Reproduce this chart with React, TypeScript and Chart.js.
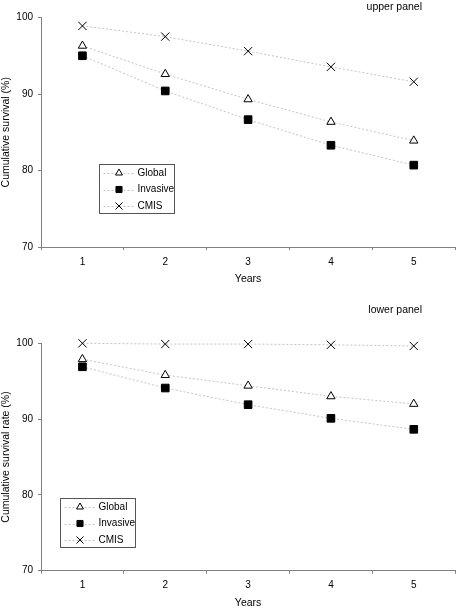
import React, { useEffect, useRef } from 'react';
import { Chart, registerables } from 'chart.js';
import { drawPoint } from 'chart.js/helpers';

Chart.register(...registerables);

const years = ['1', '2', '3', '4', '5'];
const seriesNames = ['Global', 'Invasive', 'CMIS'];

const upperGlobal = [96.3, 92.6, 89.3, 86.35, 83.9];
const upperInvasive = [95.0, 90.4, 86.65, 83.3, 80.7];
const upperCMIS = [98.9, 97.5, 95.6, 93.55, 91.6];

const lowerGlobal = [97.9, 95.8, 94.4, 93.0, 92.0];
const lowerInvasive = [96.9, 94.1, 91.9, 90.1, 88.65];
const lowerCMIS = [100, 99.9, 99.9, 99.8, 99.65];

const yTicks = [70, 80, 90, 100];

const FONT = '"Liberation Sans", Arial, Helvetica, sans-serif';
const AXIS = '#808080';
const LINE = '#c4c4c4';

const styles = [
  { pointStyle: 'triangle', bg: '#ffffff', radius: 4.8, legendRadius: 4 },
  { pointStyle: 'rect', bg: '#000000', radius: 5.4, legendRadius: 4.3 },
  { pointStyle: 'crossRot', bg: '#000000', radius: 5.8, legendRadius: 5 },
];

const insideLegend = {
  id: 'insideLegend',
  afterDraw(chart: any, _args: any, opts: any) {
    if (!opts || !opts.show) return;
    const { ctx, chartArea } = chart;
    const x0 = Math.round(chartArea.left + opts.dx) + 0.5;
    const y0 = Math.round(chartArea.top + opts.dy) + 0.5;
    const w = opts.width;
    const h = opts.height;
    ctx.save();
    ctx.fillStyle = '#ffffff';
    ctx.fillRect(x0, y0, w, h);
    ctx.strokeStyle = '#555555';
    ctx.lineWidth = 1;
    ctx.strokeRect(x0, y0, w, h);
    chart.data.datasets.forEach((ds: any, i: number) => {
      const cy = y0 + 8.5 + i * 16.5;
      ctx.save();
      ctx.strokeStyle = LINE;
      ctx.lineWidth = 1;
      ctx.setLineDash([2, 2]);
      ctx.beginPath();
      ctx.moveTo(x0 + 4, Math.round(cy) + 0.5);
      ctx.lineTo(x0 + 36, Math.round(cy) + 0.5);
      ctx.stroke();
      ctx.restore();
      ctx.fillStyle = ds.pointBackgroundColor;
      ctx.strokeStyle = '#000000';
      ctx.lineWidth = 1;
      drawPoint(ctx, { pointStyle: ds.pointStyle, radius: ds.legendRadius, borderWidth: 1, rotation: 0 } as any, x0 + 19.5, cy);
      ctx.fillStyle = '#000000';
      ctx.font = `10px ${FONT}`;
      ctx.textAlign = 'left';
      ctx.textBaseline = 'middle';
      ctx.fillText(ds.label, x0 + 38, cy);
    });
    ctx.restore();
  },
};

const panelLabel = {
  id: 'panelLabel',
  afterDraw(chart: any, _args: any, opts: any) {
    if (!opts || !opts.text) return;
    const { ctx } = chart;
    ctx.save();
    ctx.fillStyle = '#000000';
    ctx.font = `10.5px ${FONT}`;
    ctx.textAlign = 'right';
    ctx.textBaseline = 'middle';
    ctx.fillText(opts.text, opts.x, opts.y);
    ctx.restore();
  },
};

type PanelProps = {
  height: number;
  series: number[][];
  yTitle: string;
  label: string;
  labelY: number;
  padTop: number;
  xHeight: number;
  tickPad: number;
  titlePad: number;
  legendDx: number;
  legendDy: number;
};

function Panel(p: PanelProps) {
  const ref = useRef<HTMLCanvasElement>(null);
  useEffect(() => {
    if (!ref.current) return;
    const datasets = p.series.map((vals, i) => ({
      label: seriesNames[i],
      data: vals,
      borderColor: LINE,
      borderWidth: 1,
      borderDash: [2, 2],
      fill: false,
      tension: 0,
      pointStyle: styles[i].pointStyle,
      pointRadius: styles[i].radius,
      pointHoverRadius: styles[i].radius,
      pointBackgroundColor: styles[i].bg,
      pointBorderColor: '#000000',
      pointBorderWidth: 1,
      legendRadius: styles[i].legendRadius,
      clip: false,
    }));
    const chart = new Chart(ref.current, {
      type: 'line',
      data: { labels: years, datasets: datasets as any },
      options: {
        animation: false,
        responsive: false,
        events: [],
        layout: { padding: { top: p.padTop, right: 1, left: 0, bottom: 0 } },
        plugins: {
          legend: { display: false },
          tooltip: { enabled: false },
          title: { display: false },
          insideLegend: { show: true, dx: p.legendDx, dy: p.legendDy, width: 75, height: 49 },
          panelLabel: { text: p.label, x: 422, y: p.labelY },
        } as any,
        scales: {
          x: {
            type: 'category',
            offset: true,
            grid: { offset: true, drawOnChartArea: false, drawTicks: true, tickLength: 3, color: AXIS },
            border: { color: AXIS, width: 1 },
            ticks: { color: '#000000', font: { family: FONT, size: 10 }, padding: p.tickPad, maxRotation: 0 },
            title: { display: true, text: 'Years', color: '#000000', font: { family: FONT, size: 10.5 }, padding: { top: 0, bottom: p.titlePad } },
            afterFit: (s: any) => { s.height = p.xHeight; },
          },
          y: {
            min: yTicks[0],
            max: yTicks[yTicks.length - 1],
            afterBuildTicks: (s: any) => { s.ticks = yTicks.map((v) => ({ value: v })); },
            grid: { drawOnChartArea: false, drawTicks: true, tickLength: 3, color: AXIS },
            border: { color: AXIS, width: 1 },
            ticks: { color: '#000000', font: { family: FONT, size: 10 }, padding: 5 },
            title: { display: true, text: p.yTitle, color: '#000000', font: { family: FONT, size: 10.5 }, padding: 0 },
            afterFit: (s: any) => { s.width = 41; },
          },
        },
      },
      plugins: [insideLegend, panelLabel],
    });
    return () => chart.destroy();
  }, []);
  return <canvas ref={ref} width={462} height={p.height} style={{ display: 'block' }} />;
}

export default function App() {
  return (
    <div style={{ position: 'absolute', left: 0, top: 0, width: 462, height: 610, background: '#ffffff' }}>
      <Panel
        height={300}
        series={[upperGlobal, upperInvasive, upperCMIS]}
        yTitle="Cumulative survival (%)"
        label="upper panel"
        labelY={7}
        padTop={17.5}
        xHeight={53}
        tickPad={6}
        titlePad={14.7}
        legendDx={57.7}
        legendDy={146.8}
      />
      <Panel
        height={310}
        series={[lowerGlobal, lowerInvasive, lowerCMIS]}
        yTitle="Cumulative survival rate (%)"
        label="lower panel"
        labelY={10}
        padTop={43.3}
        xHeight={39.3}
        tickPad={5.5}
        titlePad={1}
        legendDx={19.3}
        legendDy={155}
      />
    </div>
  );
}
